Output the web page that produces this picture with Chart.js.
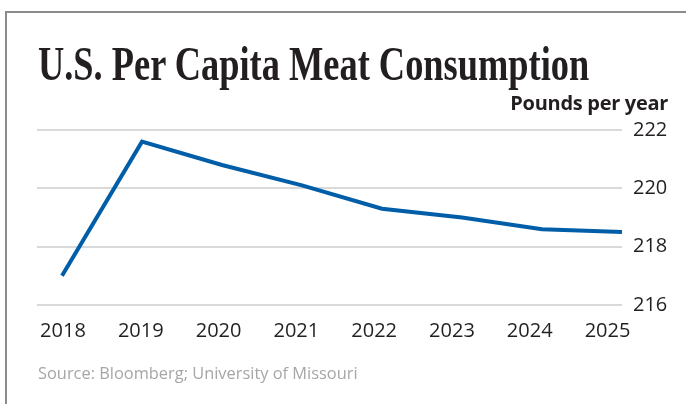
<!DOCTYPE html>
<html>
<head>
<meta charset="utf-8">
<script src="https://cdn.jsdelivr.net/npm/chart.js@4.4.1/dist/chart.umd.min.js"></script>
<style>
  html, body { margin: 0; padding: 0; background: #fff; }
  #wrap { position: relative; width: 686px; height: 404px; overflow: hidden; }
  #frame {
    position: absolute; left: 5px; top: 11px; right: 0; bottom: 0;
    border-left: 2px solid #8c8c8c; border-top: 2px solid #8c8c8c;
  }
  #title {
    position: absolute; left: 38px; top: 40px;
    font-family: "Liberation Serif", serif; font-weight: bold;
    font-size: 48px; line-height: 1; color: #231f20;
    white-space: nowrap; transform: scaleX(0.758); transform-origin: left top;
  }
  #units {
    position: absolute; right: 18px; top: 93px;
    font-family: "Open Sans", sans-serif; font-weight: bold;
    font-size: 20px; line-height: 1; color: #231f20; white-space: nowrap;
    letter-spacing: -0.3px;
  }
  #source {
    position: absolute; left: 38px; top: 365px;
    font-family: "Open Sans", sans-serif;
    font-size: 16.4px; line-height: 1; color: #a6a6a6; white-space: nowrap;
  }
  #chart { position: absolute; left: 0; top: 0; }
</style>
</head>
<body>
<div id="wrap">
  <div id="frame"></div>
  <canvas id="chart" width="686" height="404"></canvas>
  <div id="title">U.S. Per Capita Meat Consumption</div>
  <div id="units">Pounds per year</div>
  <div id="source">Source: Bloomberg; University of Missouri</div>
</div>
<script>
// per capita meat consumption, pounds per year
const years = [2018, 2019, 2020, 2021, 2022, 2023, 2024, 2025];
const pounds = [217.0, 221.6, 220.8, 220.1, 219.3, 219.0, 218.6, 218.5];
const yTicks = [216, 218, 220, 222];

const textColour = "#231f20";
const gridColour = "#d9d9d9";
const lineColour = "#005ea8";

new Chart(document.getElementById("chart"), {
    type: "line",
    data: {
        datasets: [{
            data: years.map((yr, i) => ({ x: yr, y: pounds[i] })),
            xAxisID: "xData",
            yAxisID: "y",
            borderColor: lineColour,
            borderWidth: 4,
            pointRadius: 0,
            tension: 0,
            clip: false,
        }]
    },
    options: {
        responsive: false,
        animation: false,
        layout: { padding: { left: 37, top: 130, right: 0, bottom: 0 } },
        plugins: {
            legend: { display: false },
            tooltip: { enabled: false }
        },
        scales: {
            // positions the line
            xData: {
                type: "linear",
                display: false,
                min: 2017.6875,
                max: 2025,
            },
            // year labels along the bottom
            x: {
                type: "linear",
                position: "bottom",
                min: 2017.666,
                max: 2025.186,
                grid: { display: false, drawTicks: false },
                border: { display: false },
                afterBuildTicks: scale => {
                    scale.ticks = years.map(v => ({ value: v }));
                },
                afterFit: scale => { scale.height = 99; },
                ticks: {
                    padding: 14,
                    maxRotation: 0,
                    autoSkip: false,
                    color: textColour,
                    font: { family: "Open Sans", size: 20 },
                    callback: v => String(v),
                }
            },
            y: {
                type: "linear",
                position: "right",
                min: 216,
                max: 222,
                afterBuildTicks: scale => {
                    scale.ticks = yTicks.map(v => ({ value: v }));
                },
                afterFit: scale => { scale.width = 64; },
                grid: { color: gridColour, lineWidth: 2, drawTicks: false },
                border: { display: false },
                ticks: {
                    padding: 11,
                    color: textColour,
                    font: { family: "Open Sans", size: 20 },
                }
            }
        }
    }
});
</script>
</body>
</html>
